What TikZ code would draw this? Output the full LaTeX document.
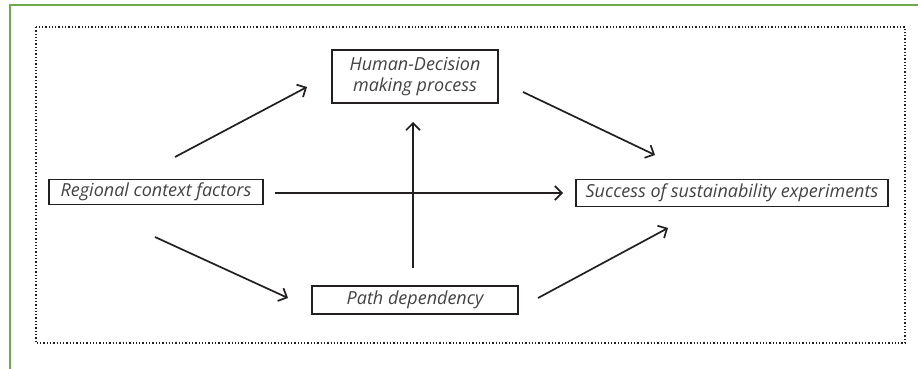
\documentclass[tikz,border=0pt]{standalone}
\usepackage{fontspec}
\setmainfont{Open Sans}
\usetikzlibrary{arrows.meta}
\definecolor{frame}{RGB}{108,172,72}
\definecolor{ink}{RGB}{35,31,32}
\begin{document}
\begin{tikzpicture}[x=1pt,y=-1pt,
  box/.style={draw=ink,line width=1.5pt,inner sep=0pt,align=center,font=\itshape\fontsize{18}{21.5}\selectfont,text=ink!85},
  conn/.style={draw=ink,line width=1.7pt,-{Straight Barb[length=7pt,width=14pt,line width=1.7pt]}}]
\useasboundingbox (0,0) rectangle (918,369);
\draw[frame,line width=2pt] (9.5,369) -- (9.5,5.5) -- (918,5.5);
\draw[ink,line width=1.3pt,dash pattern=on 1.3pt off 2pt] (36,27) rectangle (905,343);
\node[box,minimum width=166pt,minimum height=53pt] (hd) at (415,76.5) {Human-Decision\\making process};
\node[box,minimum width=214pt,minimum height=25pt] (rc) at (156,192) {Regional context factors};
\node[box,minimum width=312pt,minimum height=27pt] (ss) at (732,193) {Success of sustainability experiments};
\node[box,minimum width=206pt,minimum height=28pt] (pd) at (415,300) {Path dependency};
\coordinate (a1) at (175,157); \coordinate (b1) at (307,87);
\coordinate (a2) at (523,92); \coordinate (b2) at (655,155);
\coordinate (a3) at (275,193); \coordinate (b3) at (563,193);
\coordinate (a4) at (155,237); \coordinate (b4) at (288,298);
\coordinate (a5) at (538,298); \coordinate (b5) at (668,228);
\coordinate (a6) at (413,268); \coordinate (b6) at (413,122);
\draw[conn] (a1) -- (b1);
\draw[conn] (a2) -- (b2);
\draw[conn] (a3) -- (b3);
\draw[conn] (a4) -- (b4);
\draw[conn] (a5) -- (b5);
\draw[conn] (a6) -- (b6);
\end{tikzpicture}
\end{document}
